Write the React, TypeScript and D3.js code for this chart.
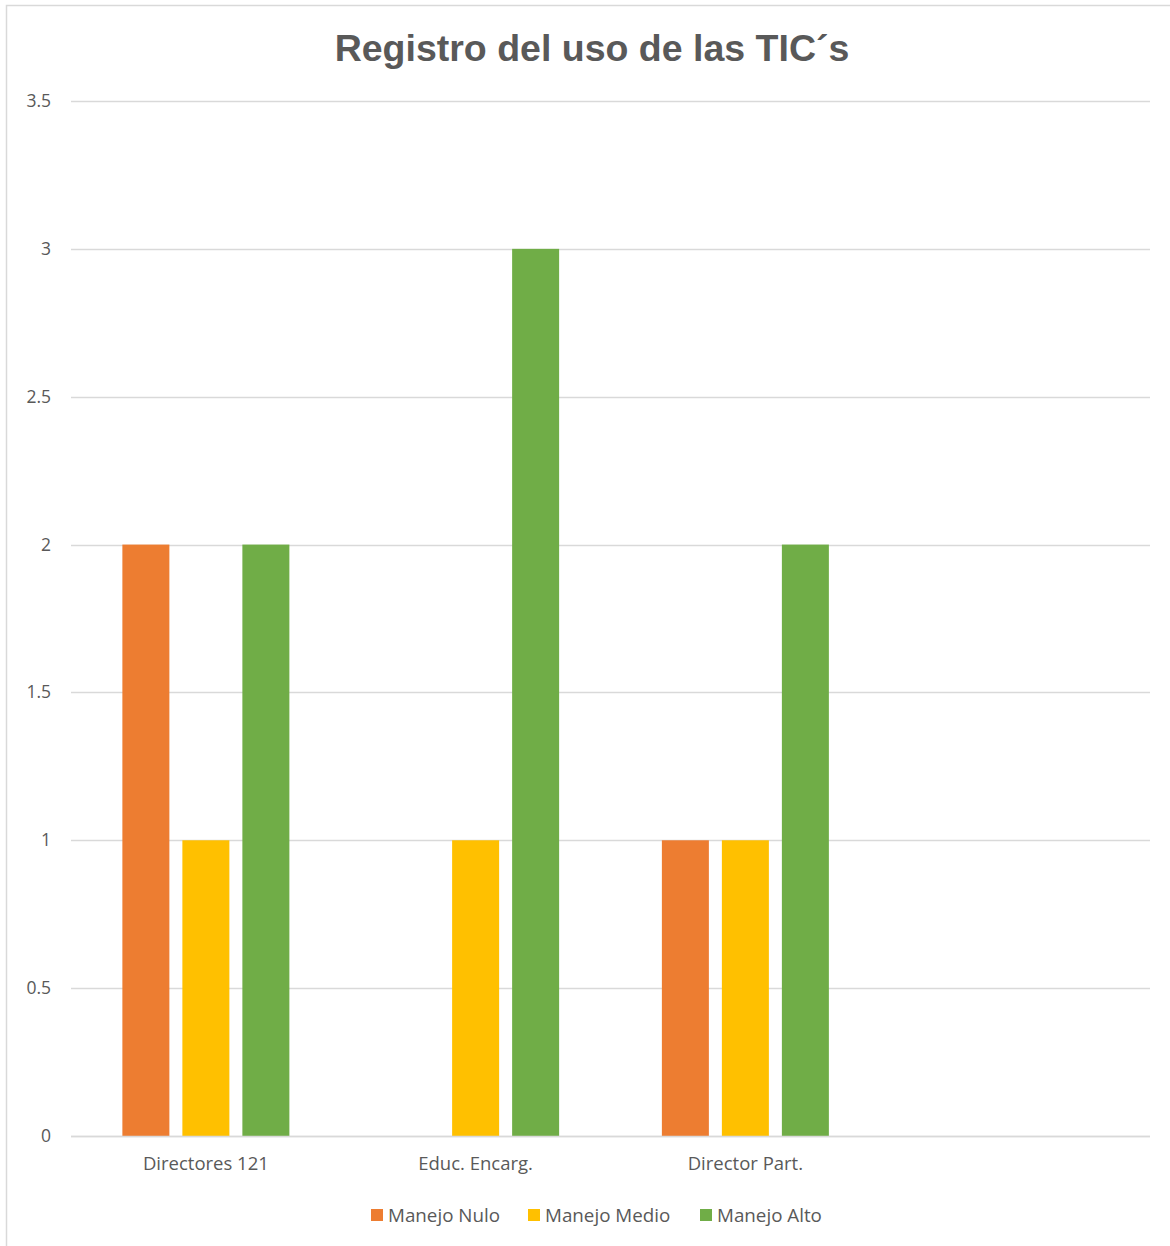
import React, { useEffect, useRef } from 'react';
import * as d3 from 'd3';

const categories = ['Directores 121', 'Educ. Encarg.', 'Director Part.', ''];
const seriesNames = ['Manejo Nulo', 'Manejo Medio', 'Manejo Alto'];
const manejoNulo = [2, 0, 1, 0];
const manejoMedio = [1, 1, 1, 0];
const manejoAlto = [2, 3, 2, 0];
const yTicks = [0, 0.5, 1, 1.5, 2, 2.5, 3, 3.5];
const colors = ['#ED7D31', '#FFC000', '#70AD47'];

const App = () => {
  const ref = useRef<SVGSVGElement>(null);

  useEffect(() => {
    const svg = d3.select(ref.current);
    svg.selectAll('*').remove();

    const W = 1170, H = 1246;
    const left = 71, right = 1150, top = 101, bottom = 1136;
    const values = [manejoNulo, manejoMedio, manejoAlto];

    svg.append('rect').attr('width', W).attr('height', H).attr('fill', '#fff');
    // chart border
    svg.append('rect')
      .attr('x', 6.5).attr('y', 5.5).attr('width', W + 10).attr('height', H + 10)
      .attr('fill', 'none').attr('stroke', '#d9d9d9').attr('stroke-width', 1.5);

    svg.append('text')
      .attr('x', 592).attr('y', 61)
      .attr('text-anchor', 'middle')
      .style('font-family', '"Liberation Sans", Arial, sans-serif')
      .style('font-weight', 'bold')
      .style('font-size', '37.5px')
      .attr('fill', '#595959')
      .text('Registro del uso de las TIC´s');

    const y = d3.scaleLinear().domain([0, 3.5]).range([bottom, top]);
    const x0 = d3.scaleBand().domain(categories.map((c, i) => String(i))).range([left, right]).padding(0);
    const groupW = 167;
    const x1 = d3.scaleBand().domain(seriesNames).range([0, groupW]).paddingInner(0.2167).paddingOuter(0);

    // gridlines
    svg.append('g').selectAll('line').data(yTicks).enter().append('line')
      .attr('x1', left).attr('x2', right)
      .attr('y1', d => Math.round(y(d)) + 0.5).attr('y2', d => Math.round(y(d)) + 0.5)
      .attr('stroke', '#d9d9d9').attr('stroke-width', 1.5);

    // y labels
    svg.append('g').selectAll('text').data(yTicks).enter().append('text')
      .attr('x', 51).attr('y', d => y(d) + 6)
      .attr('text-anchor', 'end')
      .style('font-family', '"Open Sans", sans-serif')
      .style('font-size', '17.5px')
      .attr('fill', '#595959')
      .text(d => String(d));

    // bars
    const off = (x0.bandwidth() - groupW) / 2;
    seriesNames.forEach((s, si) => {
      svg.append('g').selectAll('rect').data(values[si]).enter().append('rect')
        .attr('x', (d, i) => (x0(String(i)) as number) + off + (x1(s) as number))
        .attr('y', d => y(d))
        .attr('width', x1.bandwidth())
        .attr('height', d => bottom - y(d))
        .attr('fill', colors[si]);
    });

    // axis line on top of bars
    svg.append('line')
      .attr('x1', left).attr('x2', right).attr('y1', bottom + 0.5).attr('y2', bottom + 0.5)
      .attr('stroke', '#d9d9d9').attr('stroke-width', 1.5);

    // x labels
    svg.append('g').selectAll('text').data(categories).enter().append('text')
      .attr('x', (d, i) => (x0(String(i)) as number) + x0.bandwidth() / 2)
      .attr('y', 1170)
      .attr('text-anchor', 'middle')
      .style('font-family', '"Open Sans", sans-serif')
      .style('font-size', '18.5px')
      .attr('fill', '#595959')
      .text(d => d);

    // legend
    const legendX = [371, 528, 700];
    const lg = svg.append('g').selectAll('g').data(seriesNames).enter().append('g')
      .attr('transform', (d, i) => `translate(${legendX[i]},1209)`);
    lg.append('rect').attr('width', 12).attr('height', 12).attr('fill', (d, i) => colors[i]);
    lg.append('text')
      .attr('x', 17).attr('y', 12.5)
      .style('font-family', '"Open Sans", sans-serif')
      .style('font-size', '18.8px')
      .attr('fill', '#595959')
      .text(d => d);
  }, []);

  return (
    <svg ref={ref} width={1170} height={1246}
      style={{ position: 'absolute', left: 0, top: 0, display: 'block' }} />
  );
};

export default App;
